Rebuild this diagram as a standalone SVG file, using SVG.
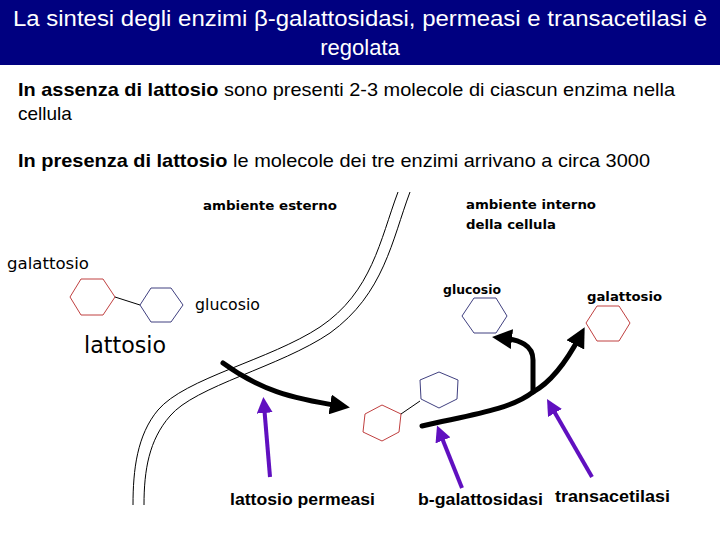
<svg xmlns="http://www.w3.org/2000/svg" width="720" height="540" viewBox="0 0 720 540">
<style>
.t{font-family:"Liberation Sans",Arial,sans-serif;fill:#000}
.c{font-family:"DejaVu Sans",sans-serif;fill:#000}
.hr{fill:none;stroke:#c04040;stroke-width:1}
.hb{fill:none;stroke:#404080;stroke-width:1}
.blk{fill:none;stroke:#000;stroke-width:5;stroke-linecap:round}
.pur{fill:none;stroke:#6010c0;stroke-width:4}
.mem{fill:none;stroke:#000;stroke-width:1}
</style>
<defs>
<marker id="ab" markerWidth="4" markerHeight="4" refX="2" refY="2" orient="auto" markerUnits="strokeWidth"><path d="M0,0L4,2L0,4Z" fill="#000"/></marker>
<marker id="ap" markerWidth="4" markerHeight="4" refX="2" refY="2" orient="auto" markerUnits="strokeWidth"><path d="M0,0L4,2L0,4Z" fill="#6010c0"/></marker>
</defs>
<rect x="0" y="0" width="720" height="65" fill="#000080"/>
<text class="t" x="360" y="26" font-size="22" text-anchor="middle" style="fill:#fff" textLength="694" lengthAdjust="spacingAndGlyphs">La sintesi degli enzimi β-galattosidasi, permeasi e transacetilasi è</text>
<text class="t" x="360" y="55" font-size="22" text-anchor="middle" style="fill:#fff">regolata</text>
<text class="t" x="18" y="96" font-size="19" textLength="657" lengthAdjust="spacingAndGlyphs"><tspan font-weight="bold">In assenza di lattosio</tspan> sono presenti 2-3 molecole di ciascun enzima nella</text>
<text class="t" x="18" y="120" font-size="19">cellula</text>
<text class="t" x="18" y="167" font-size="19" textLength="632" lengthAdjust="spacingAndGlyphs"><tspan font-weight="bold">In presenza di lattosio</tspan> le molecole dei tre enzimi arrivano a circa 3000</text>
<g id="membrane">
<path class="mem" d="M398,192 C380,240 372,292 320,327 C270,360 185,378 158,410 C137,435 133,470 133,505"/>
<path class="mem" d="M410,192 C392,240 384,294 330,333 C280,367 195,386 170,416 C149,440 144,470 144,505"/>
</g>
<g id="labels">
<text class="c" x="203" y="210" font-weight="bold" font-size="13" textLength="134" lengthAdjust="spacingAndGlyphs">ambiente esterno</text>
<text class="c" x="466" y="209" font-weight="bold" font-size="13" textLength="130" lengthAdjust="spacingAndGlyphs">ambiente interno</text>
<text class="c" x="466" y="229" font-weight="bold" font-size="13" textLength="90" lengthAdjust="spacingAndGlyphs">della cellula</text>
</g>
<g id="lattosio-out">
<text class="c" x="7" y="269" font-size="15" textLength="82" lengthAdjust="spacingAndGlyphs">galattosio</text>
<polygon class="hr" points="70,297 81,279 103,279 115,297 103,315 81,315"/>
<line x1="115" y1="297" x2="140" y2="305" stroke="#000"/>
<polygon class="hb" points="140,305 151,288 171,288 183,305 171,322 151,322"/>
<text class="c" x="195" y="310" font-size="15" textLength="65" lengthAdjust="spacingAndGlyphs">glucosio</text>
<text class="c" x="84" y="353" font-size="23" textLength="82" lengthAdjust="spacingAndGlyphs">lattosio</text>
</g>
<g id="lattosio-in">
<polygon class="hr" points="382,405 401,414 399,432 382,441 363,432 365,414"/>
<line x1="401" y1="414" x2="420" y2="401" stroke="#000"/>
<polygon class="hb" points="439,372 458,380 457,399 439,408 421,399 420,380"/>
</g>
<g id="glucosio-in">
<text class="c" x="443" y="294" font-weight="bold" font-size="13" textLength="58" lengthAdjust="spacingAndGlyphs">glucosio</text>
<polygon class="hb" points="462,316 474,298 496,298 507,316 496,333 474,333"/>
</g>
<g id="galattosio-in">
<text class="c" x="587" y="301" font-weight="bold" font-size="13" textLength="75" lengthAdjust="spacingAndGlyphs">galattosio</text>
<polygon class="hr" points="586,323 597,306 619,306 630,323 619,341 597,341"/>
</g>
<g id="connectors">
<path class="blk" d="M223,363 C260,390 290,398 340,406" marker-end="url(#ab)"/>
<path class="blk" d="M422,426 C470,415 510,410 533,392 L533,360 C533,345 520,340 502,338" marker-end="url(#ab)"/>
<path class="blk" d="M533,392 C555,380 570,355 580,336" marker-end="url(#ab)"/>
<path class="pur" d="M270,477 L264,405" marker-end="url(#ap)"/>
<path class="pur" d="M462,488 L440,433" marker-end="url(#ap)"/>
<path class="pur" d="M592,477 L551,406" marker-end="url(#ap)"/>
</g>
<g id="enzymes">
<text class="t" x="230" y="505" font-size="17" font-weight="bold" textLength="145" lengthAdjust="spacingAndGlyphs">lattosio permeasi</text>
<text class="t" x="418" y="505" font-size="17" font-weight="bold" textLength="125" lengthAdjust="spacingAndGlyphs">b-galattosidasi</text>
<text class="t" x="555" y="502" font-size="17" font-weight="bold" textLength="115" lengthAdjust="spacingAndGlyphs">transacetilasi</text>
</g>
</svg>
